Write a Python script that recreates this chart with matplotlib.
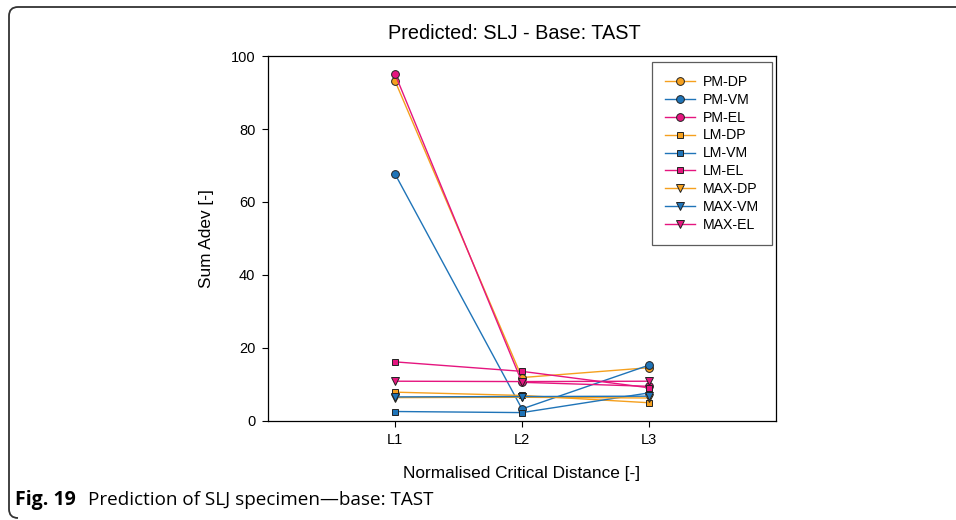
import matplotlib
matplotlib.use("Agg")
import matplotlib.pyplot as plt
from matplotlib.path import Path
from matplotlib.patches import PathPatch

# data
positions = ["L1", "L2", "L3"]
pm_dp = [93.2, 11.9, 14.6]
pm_vm = [67.7, 3.3, 15.3]
pm_el = [95.1, 10.6, 9.5]
lm_dp = [7.9, 7.0, 5.0]
lm_vm = [2.6, 2.3, 7.7]
lm_el = [16.2, 13.6, 9.1]
max_dp = [6.4, 6.5, 6.3]
max_vm = [6.6, 6.7, 6.8]
max_el = [10.9, 10.8, 10.9]

ORANGE = "#f5a01e"
BLUE = "#1f74b8"
MAGENTA = "#e5157f"

series = [
    ("PM-DP", pm_dp, ORANGE, "o"),
    ("PM-VM", pm_vm, BLUE, "o"),
    ("PM-EL", pm_el, MAGENTA, "o"),
    ("LM-DP", lm_dp, ORANGE, "s"),
    ("LM-VM", lm_vm, BLUE, "s"),
    ("LM-EL", lm_el, MAGENTA, "s"),
    ("MAX-DP", max_dp, ORANGE, "v"),
    ("MAX-VM", max_vm, BLUE, "v"),
    ("MAX-EL", max_el, MAGENTA, "v"),
]

plt.rcParams["font.family"] = ["Liberation Sans", "DejaVu Sans"]

fig = plt.figure(figsize=(9.56, 5.2), dpi=100)
ax = fig.add_axes([0.2803, 0.1904, 0.5314, 0.7019])

xs = [1, 2, 3]
for name, vals, col, mk in series:
    ax.plot(xs, vals, color=col, lw=1.0, marker=mk,
            ms=5.0 if mk == "s" else 5.6,
            markerfacecolor=col, markeredgecolor="#222222", markeredgewidth=0.7,
            label=name)

ax.set_xlim(0, 4)
ax.set_ylim(0, 100)
ax.set_xticks(xs)
ax.set_xticklabels(positions)
ax.set_yticks(range(0, 101, 20))
ax.tick_params(direction="out", length=4, width=0.8, labelsize=10.5, pad=5)
for s in ax.spines.values():
    s.set_linewidth(0.9)

ax.set_title("Predicted: SLJ - Base: TAST", fontsize=14.3, pad=12, x=0.486)
ax.set_xlabel("Normalised Critical Distance [-]", fontsize=12.4, labelpad=13)
ax.set_ylabel("Sum Adev [-]", fontsize=12.4, labelpad=12)

leg = ax.legend(loc="upper right", bbox_to_anchor=(0.992, 0.984), fontsize=10.2,
                frameon=True, fancybox=False, edgecolor="#333333",
                handlelength=2.1, labelspacing=0.28, borderpad=0.9,
                handletextpad=0.6, borderaxespad=0.0)
leg.get_frame().set_linewidth(0.9)

# page frame: top + left edges with rounded corners
W, H = 956.0, 520.0
r = 9.0
verts = [(W, H - 7), (9 + r, H - 7), (9, H - 7), (9, H - 7 - r),
         (9, 2 + r), (9, 2), (9 + r, 2)]
codes = [Path.MOVETO, Path.LINETO, Path.CURVE3, Path.CURVE3,
         Path.LINETO, Path.CURVE3, Path.CURVE3]
verts = [(x / W, y / H) for x, y in verts]
fig.patches.append(PathPatch(Path(verts, codes), transform=fig.transFigure,
                             fill=False, lw=1.3, edgecolor="#333333"))

fig.text(15 / W, 1 - 500 / H, "Fig. 19", fontsize=14, fontweight="bold",
         family=["Open Sans", "DejaVu Sans"], va="center")
fig.text(88 / W, 1 - 500 / H, "Prediction of SLJ specimen\u2014base: TAST",
         fontsize=13.6, family=["Open Sans", "DejaVu Sans"], va="center")

fig.savefig("out.png", dpi=100)
